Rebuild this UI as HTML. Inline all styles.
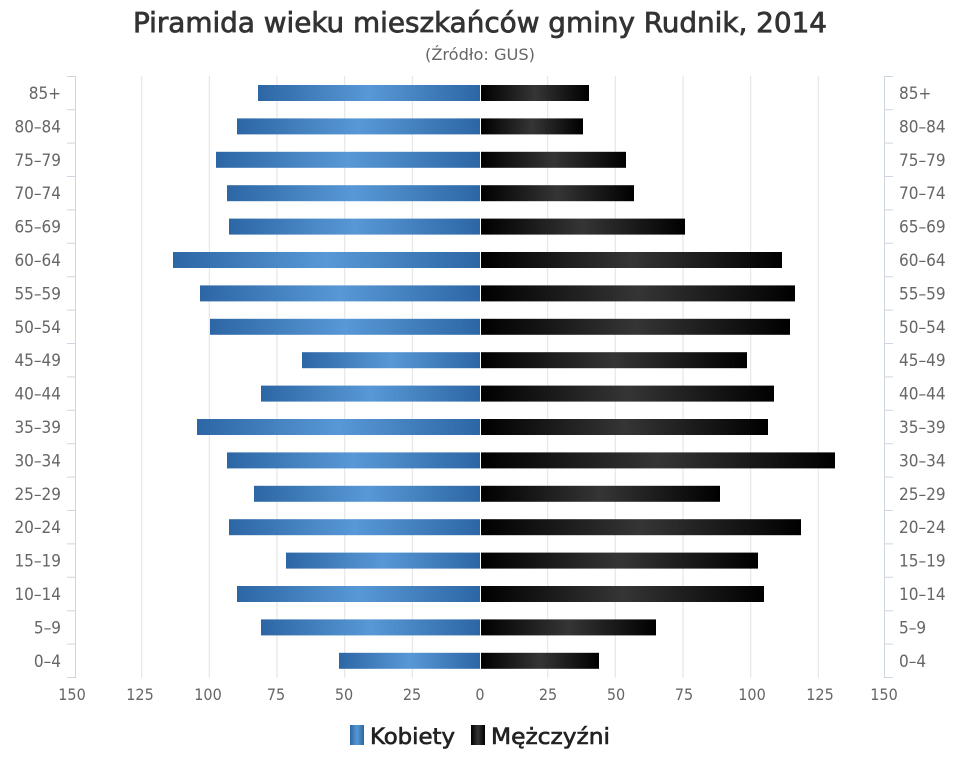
<!DOCTYPE html>
<html><head><meta charset="utf-8"><style>
html,body{margin:0;padding:0;background:#fff;}
svg{display:block;font-family:"DejaVu Sans Condensed","Liberation Sans Narrow","Liberation Sans",sans-serif;}
</style></head><body>
<svg width="960" height="768" viewBox="0 0 960 768" xmlns="http://www.w3.org/2000/svg">
<defs>
<linearGradient id="b" x1="0" y1="0" x2="1" y2="0"><stop offset="0" stop-color="#2d66a4"/><stop offset="0.5" stop-color="#5898d6"/><stop offset="1" stop-color="#2d66a4"/></linearGradient>
<linearGradient id="k" x1="0" y1="0" x2="1" y2="0"><stop offset="0" stop-color="#000"/><stop offset="0.5" stop-color="#353535"/><stop offset="1" stop-color="#000"/></linearGradient>
</defs>
<text x="133" y="32" textLength="694" lengthAdjust="spacingAndGlyphs" font-size="28" fill="#333" stroke="#333" stroke-width="0.7">Piramida wieku mieszkańców gminy Rudnik, 2014</text>
<text x="425" y="60" textLength="110" lengthAdjust="spacingAndGlyphs" font-size="16" fill="#666">(Źródło: GUS)</text>
<g stroke="#e2e2e2" stroke-width="1">
<line x1="141.7" y1="76" x2="141.7" y2="678"/><line x1="209.3" y1="76" x2="209.3" y2="678"/><line x1="277" y1="76" x2="277" y2="678"/><line x1="344.7" y1="76" x2="344.7" y2="678"/><line x1="412.3" y1="76" x2="412.3" y2="678"/><line x1="547.7" y1="76" x2="547.7" y2="678"/><line x1="615.3" y1="76" x2="615.3" y2="678"/><line x1="683" y1="76" x2="683" y2="678"/><line x1="750.7" y1="76" x2="750.7" y2="678"/><line x1="818.3" y1="76" x2="818.3" y2="678"/>
</g>
<g stroke="#ccd6e0" stroke-width="1">
<line x1="75.5" y1="76" x2="75.5" y2="678"/><line x1="884.5" y1="76" x2="884.5" y2="678"/>
<path d="M67 76.5H75M67 109.7H75M67 143.1H75M67 176.5H75M67 209.9H75M67 243.3H75M67 276.7H75M67 310.1H75M67 343.5H75M67 376.9H75M67 410.3H75M67 443.7H75M67 477.1H75M67 510.5H75M67 543.9H75M67 577.3H75M67 610.7H75M67 644.1H75M67 677.5H75"/>
<path d="M885 76.5H893M885 109.7H893M885 143.1H893M885 176.5H893M885 209.9H893M885 243.3H893M885 276.7H893M885 310.1H893M885 343.5H893M885 376.9H893M885 410.3H893M885 443.7H893M885 477.1H893M885 510.5H893M885 543.9H893M885 577.3H893M885 610.7H893M885 644.1H893M885 677.5H893"/>
</g>
<g>
<rect x="258" y="85" width="222" height="16" fill="url(#b)"/><rect x="481" y="85" width="108" height="16" fill="url(#k)"/>
<rect x="237" y="118.4" width="243" height="16" fill="url(#b)"/><rect x="481" y="118.4" width="102" height="16" fill="url(#k)"/>
<rect x="216" y="151.8" width="264" height="16" fill="url(#b)"/><rect x="481" y="151.8" width="145" height="16" fill="url(#k)"/>
<rect x="227" y="185.2" width="253" height="16" fill="url(#b)"/><rect x="481" y="185.2" width="153" height="16" fill="url(#k)"/>
<rect x="229" y="218.6" width="251" height="16" fill="url(#b)"/><rect x="481" y="218.6" width="204" height="16" fill="url(#k)"/>
<rect x="173" y="252" width="307" height="16" fill="url(#b)"/><rect x="481" y="252" width="301" height="16" fill="url(#k)"/>
<rect x="200" y="285.4" width="280" height="16" fill="url(#b)"/><rect x="481" y="285.4" width="314" height="16" fill="url(#k)"/>
<rect x="210" y="318.8" width="270" height="16" fill="url(#b)"/><rect x="481" y="318.8" width="309" height="16" fill="url(#k)"/>
<rect x="302" y="352.2" width="178" height="16" fill="url(#b)"/><rect x="481" y="352.2" width="266" height="16" fill="url(#k)"/>
<rect x="261" y="385.6" width="219" height="16" fill="url(#b)"/><rect x="481" y="385.6" width="293" height="16" fill="url(#k)"/>
<rect x="197" y="419" width="283" height="16" fill="url(#b)"/><rect x="481" y="419" width="287" height="16" fill="url(#k)"/>
<rect x="227" y="452.4" width="253" height="16" fill="url(#b)"/><rect x="481" y="452.4" width="354" height="16" fill="url(#k)"/>
<rect x="254" y="485.8" width="226" height="16" fill="url(#b)"/><rect x="481" y="485.8" width="239" height="16" fill="url(#k)"/>
<rect x="229" y="519.2" width="251" height="16" fill="url(#b)"/><rect x="481" y="519.2" width="320" height="16" fill="url(#k)"/>
<rect x="286" y="552.6" width="194" height="16" fill="url(#b)"/><rect x="481" y="552.6" width="277" height="16" fill="url(#k)"/>
<rect x="237" y="586" width="243" height="16" fill="url(#b)"/><rect x="481" y="586" width="283" height="16" fill="url(#k)"/>
<rect x="261" y="619.4" width="219" height="16" fill="url(#b)"/><rect x="481" y="619.4" width="175" height="16" fill="url(#k)"/>
<rect x="339" y="652.8" width="141" height="16" fill="url(#b)"/><rect x="481" y="652.8" width="118" height="16" fill="url(#k)"/>
</g>
<g font-size="17" fill="#666" text-anchor="end">
<text x="61" y="99">85+</text><text x="61" y="132.4">80–84</text><text x="61" y="165.8">75–79</text><text x="61" y="199.2">70–74</text><text x="61" y="232.6">65–69</text><text x="61" y="266">60–64</text><text x="61" y="299.4">55–59</text><text x="61" y="332.8">50–54</text><text x="61" y="366.2">45–49</text><text x="61" y="399.6">40–44</text><text x="61" y="433">35–39</text><text x="61" y="466.4">30–34</text><text x="61" y="499.8">25–29</text><text x="61" y="533.2">20–24</text><text x="61" y="566.6">15–19</text><text x="61" y="600">10–14</text><text x="61" y="633.4">5–9</text><text x="61" y="666.8">0–4</text>
</g>
<g font-size="17" fill="#666" text-anchor="start">
<text x="899" y="99">85+</text><text x="899" y="132.4">80–84</text><text x="899" y="165.8">75–79</text><text x="899" y="199.2">70–74</text><text x="899" y="232.6">65–69</text><text x="899" y="266">60–64</text><text x="899" y="299.4">55–59</text><text x="899" y="332.8">50–54</text><text x="899" y="366.2">45–49</text><text x="899" y="399.6">40–44</text><text x="899" y="433">35–39</text><text x="899" y="466.4">30–34</text><text x="899" y="499.8">25–29</text><text x="899" y="533.2">20–24</text><text x="899" y="566.6">15–19</text><text x="899" y="600">10–14</text><text x="899" y="633.4">5–9</text><text x="899" y="666.8">0–4</text>
</g>
<g font-size="16" fill="#666" text-anchor="middle">
<text x="72" y="700">150</text><text x="140" y="700">125</text><text x="208" y="700">100</text><text x="276" y="700">75</text><text x="344" y="700">50</text><text x="412" y="700">25</text><text x="480" y="700">0</text><text x="548" y="700">25</text><text x="616" y="700">50</text><text x="684" y="700">75</text><text x="752" y="700">100</text><text x="820" y="700">125</text><text x="884" y="700">150</text>
</g>
<rect x="350" y="725" width="14" height="20" fill="url(#b)"/>
<text x="370" y="744" textLength="85" lengthAdjust="spacingAndGlyphs" font-size="22" fill="#222" stroke="#222" stroke-width="0.6">Kobiety</text>
<rect x="471" y="725" width="14" height="20" fill="url(#k)"/>
<text x="491" y="744" textLength="119" lengthAdjust="spacingAndGlyphs" font-size="22" fill="#222" stroke="#222" stroke-width="0.6">Mężczyźni</text>
</svg>
</body></html>
